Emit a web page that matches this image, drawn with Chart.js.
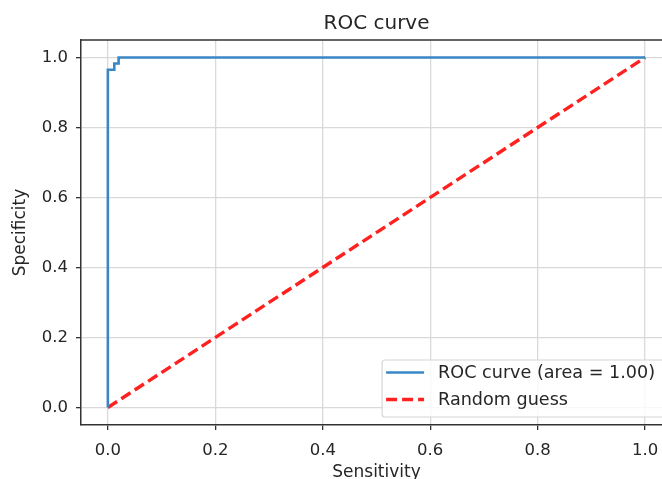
<html>
<head>
  <title>ROC curve</title>
  <script src="https://cdn.jsdelivr.net/npm/chart.js"></script>
  <style>
    body { margin: 0; background: #fff; overflow: hidden; }
    #wrap { width: 662px; height: 479px; overflow: hidden; }
  </style>
</head>
<body>
  <div id="wrap">
    <canvas id="roc" width="754" height="479"></canvas>
  </div>

  <script>
    // ROC curve points
    const rocFpr = [0, 0, 0.012, 0.012, 0.02, 0.02, 1];
    const rocTpr = [0, 0.965, 0.965, 0.983, 0.983, 1, 1];
    // diagonal reference line
    const guessX = [0, 1];
    const guessY = [0, 1];
    // tick positions for both axes
    const tickValues = [0, 0.2, 0.4, 0.6, 0.8, 1.0];

    const rocLabel = 'ROC curve (area = 1.00)';
    const guessLabel = 'Random guess';

    const toPoints = (xs, ys) => xs.map((x, i) => ({ x: x, y: ys[i] }));

    Chart.defaults.font.family = "'DejaVu Sans', sans-serif";
    Chart.defaults.color = '#262626';

    // draw the top/right spines like matplotlib
    const boxPlugin = {
      id: 'axesBox',
      beforeDatasetsDraw(chart) {
        const { ctx, chartArea: a } = chart;
        ctx.save();
        ctx.strokeStyle = '#333';
        ctx.lineWidth = 1.5;
        ctx.beginPath();
        ctx.moveTo(a.left, a.top);
        ctx.lineTo(a.right, a.top);
        ctx.lineTo(a.right, a.bottom);
        ctx.stroke();
        ctx.restore();
      }
    };

    // legend in the lower right corner of the plot
    const legendPlugin = {
      id: 'innerLegend',
      afterDraw(chart) {
        const { ctx, chartArea: a } = chart;
        const sets = chart.data.datasets;
        ctx.save();
        ctx.font = "17.6px 'DejaVu Sans'";
        let textW = 0;
        sets.forEach(ds => { textW = Math.max(textW, ctx.measureText(ds.label).width); });
        const w = 56 + textW + 10;
        const h = 57;
        const right = a.right - 7;
        const bottom = a.bottom - 8;
        const left = right - w;
        const top = bottom - h;

        ctx.fillStyle = 'rgba(255,255,255,0.8)';
        ctx.strokeStyle = '#d6d6d6';
        ctx.lineWidth = 1.2;
        ctx.beginPath();
        ctx.roundRect(left, top, w, h, 3);
        ctx.fill();
        ctx.stroke();

        sets.forEach((ds, i) => {
          const y = top + 12.5 + i * 27;
          ctx.strokeStyle = ds.borderColor;
          ctx.lineWidth = ds.borderWidth;
          ctx.setLineDash(ds.borderDash || []);
          ctx.beginPath();
          ctx.moveTo(left + 4, y);
          ctx.lineTo(left + 42, y);
          ctx.stroke();
          ctx.setLineDash([]);
          ctx.fillStyle = '#262626';
          ctx.textBaseline = 'middle';
          ctx.textAlign = 'left';
          ctx.fillText(ds.label, left + 56, y + 1);
        });
        ctx.restore();
      }
    };

    const setTicks = scale => {
      scale.ticks = tickValues.map(v => ({ value: v }));
    };

    const ctx = document.getElementById('roc').getContext('2d');
    const rocChart = new Chart(ctx, {
      type: 'scatter',
      data: {
        datasets: [{
          label: rocLabel,
          data: toPoints(rocFpr, rocTpr),
          showLine: true,
          borderColor: '#3a87c8',
          borderWidth: 2.6,
          pointRadius: 0,
          fill: false
        }, {
          label: guessLabel,
          data: toPoints(guessX, guessY),
          showLine: true,
          borderColor: '#ff2020',
          borderWidth: 3.4,
          borderDash: [11, 5],
          pointRadius: 0,
          fill: false
        }]
      },
      options: {
        responsive: false,
        animation: false,
        layout: { padding: { left: 0, right: 82, top: 0, bottom: 0 } },
        plugins: {
          legend: { display: false },
          tooltip: { enabled: false },
          title: {
            display: true,
            fullSize: false,
            text: 'ROC curve',
            font: { size: 20, weight: 'normal' },
            color: '#262626',
            padding: { top: 12, bottom: 4 }
          }
        },
        scales: {
          x: {
            type: 'linear',
            min: -0.05,
            max: 1.05,
            afterBuildTicks: setTicks,
            afterFit: s => { s.height = 54; },
            ticks: {
              font: { size: 16.5 },
              padding: 11,
              callback: v => v.toFixed(1)
            },
            grid: { color: '#d9d9d9', lineWidth: 1.3, tickColor: '#333', tickLength: 5 },
            border: { color: '#333', width: 1.5 },
            title: {
              display: true,
              text: 'Sensitivity',
              font: { size: 17 },
              padding: { top: 0, bottom: -4 }
            }
          },
          y: {
            type: 'linear',
            min: -0.05,
            max: 1.05,
            afterBuildTicks: setTicks,
            afterFit: s => { s.width = 81; },
            ticks: {
              font: { size: 16.5 },
              padding: 8,
              callback: v => v.toFixed(1)
            },
            grid: { color: '#d9d9d9', lineWidth: 1.3, tickColor: '#333', tickLength: 5 },
            border: { color: '#333', width: 1.5 },
            title: {
              display: true,
              text: 'Specificity',
              font: { size: 17 },
              padding: { top: 10, bottom: 0 }
            }
          }
        }
      },
      plugins: [boxPlugin, legendPlugin]
    });
  </script>
</body>
</html>
